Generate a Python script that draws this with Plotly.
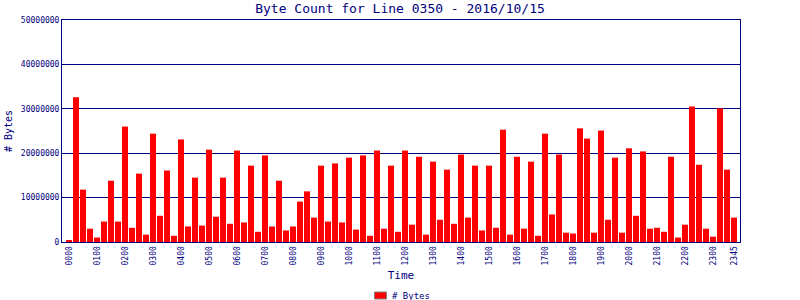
import plotly.graph_objects as go

title = "Byte Count for Line 0350 - 2016/10/15"
series_name = "# Bytes"

# 96 fifteen-minute intervals, values in millions of bytes
values_m = [
    0.3, 32.6, 11.8, 3.0, 1.0, 4.6, 13.8, 4.6, 26.0, 3.2, 15.4, 1.65,
    24.4, 5.9, 16.1, 1.4, 23.1, 3.5, 14.5, 3.7, 20.8, 5.7, 14.5, 4.1,
    20.6, 4.4, 17.2, 2.3, 19.5, 3.5, 13.8, 2.6, 3.5, 9.1, 11.4, 5.5,
    17.2, 4.6, 17.7, 4.4, 19.0, 2.8, 19.5, 1.4, 20.6, 3.0, 17.2, 2.3,
    20.6, 3.9, 19.2, 1.65, 18.1, 5.0, 16.3, 4.1, 19.7, 5.5, 17.2, 2.6,
    17.2, 3.2, 25.3, 1.65, 19.2, 3.0, 18.1, 1.4, 24.4, 6.2, 19.7, 2.1,
    1.9, 25.6, 23.3, 2.1, 25.1, 5.0, 19.0, 2.1, 21.1, 5.9, 20.4, 3.0,
    3.2, 2.3, 19.2, 1.0, 3.9, 30.5, 17.4, 3.0, 1.2, 30.1, 16.3, 5.5,
]
values = [v * 1_000_000 for v in values_m]
times = ["%02d%02d" % (i // 4, (i % 4) * 15) for i in range(96)]

tick_idx = list(range(0, 96, 4)) + [95]
tick_text = [times[i] for i in tick_idx]
y_ticks = [0, 10_000_000, 20_000_000, 30_000_000, 40_000_000, 50_000_000]
y_tick_text = [str(v) for v in y_ticks]

NAVY = "#000080"
RED = "#FF0000"
FONT = "DejaVu Sans Mono"
W, H = 800, 300
idx = list(range(len(values)))

fig = go.Figure()
fig.add_trace(go.Bar(x=idx, y=values, width=0.86, name=series_name,
                     marker=dict(color=RED, line=dict(width=0)),
                     showlegend=False, hovertext=times))

# hand-drawn legend (swatch + label) below the axis title
fig.add_shape(type="rect", xref="paper", yref="paper",
              x0=374.5 / W, x1=386.5 / W, y0=(H - 299) / H, y1=(H - 292) / H,
              fillcolor=RED, line=dict(color="#808080", width=1))
fig.add_annotation(text=series_name, xref="paper", yref="paper", x=390 / W, y=(H - 295.5) / H,
                   xanchor="left", yanchor="middle", showarrow=False,
                   font=dict(family=FONT, size=9, color=NAVY))

fig.update_layout(
    width=W, height=H,
    margin=dict(l=0, r=0, t=0, b=0),
    paper_bgcolor="white", plot_bgcolor="white",
    title=dict(text=title, x=0.5, xanchor="center", y=0.972, yanchor="middle",
               font=dict(family=FONT, size=13, color=NAVY)),
    showlegend=False,
    xaxis=dict(domain=[62 / W, 740 / W], range=[-1, 95.86], tickmode="array",
               tickvals=tick_idx, ticktext=tick_text,
               tickangle=-90, tickfont=dict(family=FONT, size=8, color=NAVY), automargin=False,
               showgrid=False, zeroline=False, showline=True, linecolor=NAVY, linewidth=1,
               mirror=True, ticks="", title=dict(text="Time", standoff=6,
               font=dict(family=FONT, size=11, color=NAVY))),
    yaxis=dict(domain=[58 / H, 280 / H], range=[0, 50_000_000], tickmode="array",
               tickvals=y_ticks, ticktext=y_tick_text,
               tickfont=dict(family=FONT, size=8, color=NAVY), automargin=False,
               showgrid=True, gridcolor=NAVY, gridwidth=1, zeroline=False,
               showline=True, linecolor=NAVY, linewidth=1, mirror=True, ticks="",
               title=dict(text="# Bytes", standoff=6, font=dict(family=FONT, size=10, color=NAVY))),
)

fig.write_html("out.html")
